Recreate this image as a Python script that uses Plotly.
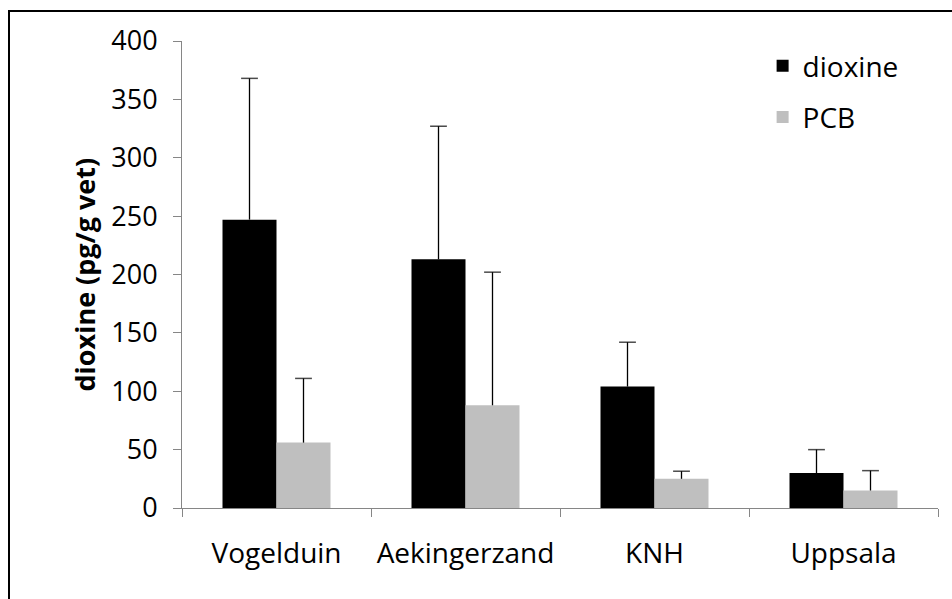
import plotly.graph_objects as go

# Dioxin and PCB levels per site (pg/g fat), with the upper error bar length
categories = ["Vogelduin", "Aekingerzand", "KNH", "Uppsala"]
dioxine = [247, 213, 104, 30]
dioxine_err = [121, 114, 38, 20]
pcb = [56, 88, 25, 15]
pcb_err = [55, 114, 6.5, 17]
y_ticks = [0, 50, 100, 150, 200, 250, 300, 350, 400]

FONT = "Open Sans"
AXIS_GREY = "#868686"
BAR_W = 0.2857          # width of one bar in category units
idx = list(range(len(categories)))

fig = go.Figure()

fig.add_trace(go.Bar(
    x=idx, y=dioxine, name="dioxine", width=BAR_W, offset=-BAR_W,
    marker=dict(color="#000000", line=dict(width=0)),
    legendgroup="d",
))
fig.add_trace(go.Bar(
    x=idx, y=pcb, name="PCB", width=BAR_W, offset=0,
    marker=dict(color="#BFBFBF", line=dict(width=0)),
    legendgroup="p",
))


def plus_error(centers, values, errs):
    """Vertical whisker from each bar top up to value + error, capped at the top."""
    xs, ys, sizes = [], [], []
    for c, v, e in zip(centers, values, errs):
        xs += [c, c, None]
        ys += [v, v + e, None]
        sizes += [0, 12, 0]
    return xs, ys, sizes


for vals, errs, shift in ((dioxine, dioxine_err, -BAR_W / 2), (pcb, pcb_err, BAR_W / 2)):
    centers = [i + shift for i in idx]
    xs, ys, sizes = plus_error(centers, vals, errs)
    fig.add_trace(go.Scatter(
        x=xs, y=ys, mode="lines+markers", showlegend=False, hoverinfo="skip",
        line=dict(color="#000000", width=1.3),
        marker=dict(symbol="line-ew", size=sizes, line=dict(color="#000000", width=1.5)),
        connectgaps=False,
    ))

# outer chart frame
fig.add_shape(type="rect", xref="paper", yref="paper",
              x0=(9 - 182) / 756, x1=1.2, y0=-0.3, y1=(508 - 11) / 467,
              line=dict(color="#000000", width=2), fillcolor="rgba(0,0,0,0)", layer="above")

# rotated y-axis title
fig.add_annotation(
    text="<b>dioxine (pg/g vet)</b>", xref="paper", yref="paper",
    x=(84 - 182) / 756, y=0.5, xanchor="center", yanchor="middle",
    textangle=-90, showarrow=False,
    font=dict(family=FONT, size=27, color="#000000"),
)

fig.update_layout(
    width=952, height=599,
    margin=dict(l=182, r=14, t=41, b=91),
    paper_bgcolor="#FFFFFF", plot_bgcolor="#FFFFFF",
    font=dict(family=FONT, size=28, color="#000000"),
    barmode="overlay",
    showlegend=True,
    legend=dict(
        x=0.768, y=1.0, xanchor="left", yanchor="top",
        bgcolor="rgba(0,0,0,0)", font=dict(family=FONT, size=28),
        traceorder="grouped", tracegroupgap=12, itemwidth=30,
    ),
    xaxis=dict(
        range=[-0.5, 3.5], tickmode="array", tickvals=idx, ticktext=categories,
        ticks="", showline=True, linecolor=AXIS_GREY, linewidth=1,
        showgrid=False, zeroline=False, ticklabelstandoff=20,
        tickfont=dict(family=FONT, size=28),
        minor=dict(tickmode="array", tickvals=[-0.5, 0.5, 1.5, 2.5, 3.5],
                   ticks="outside", ticklen=8, tickcolor=AXIS_GREY, tickwidth=1,
                   showgrid=False),
        fixedrange=True,
    ),
    yaxis=dict(
        range=[0, 400], tickmode="array", tickvals=y_ticks,
        ticks="outside", ticklen=8, tickcolor=AXIS_GREY, tickwidth=1,
        showline=True, linecolor=AXIS_GREY, linewidth=1,
        showgrid=False, zeroline=False, ticklabelstandoff=10,
        tickfont=dict(family=FONT, size=27),
        fixedrange=True,
    ),
)

fig.write_html("out.html")
